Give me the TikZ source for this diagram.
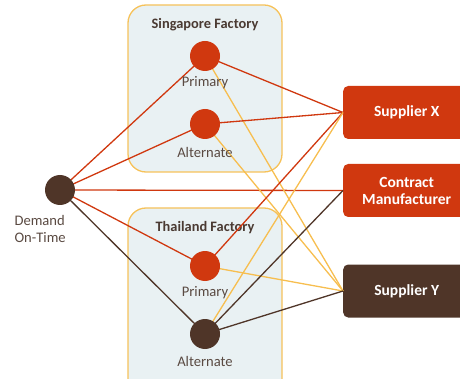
\documentclass[tikz,border=0pt]{standalone}
\usepackage{fontspec}
\setmainfont{Carlito}
\definecolor{cRed}{HTML}{D0380F}
\definecolor{cBrown}{HTML}{4F3528}
\definecolor{cYellow}{HTML}{F7BE4F}
\definecolor{cFill}{HTML}{E9F1F3}
\definecolor{cBorder}{HTML}{F6C25A}
\definecolor{cTitle}{HTML}{4A3A32}
\definecolor{cLabel}{HTML}{5A4A42}
\begin{document}
\begin{tikzpicture}[x=1pt,y=-1pt,
  factorybox/.style={draw=cBorder, line width=1.3pt, fill=cFill, rounded corners=18pt, inner sep=0pt},
  ftitle/.style={font=\bfseries\fontsize{14.4}{16}\selectfont, text=cTitle},
  dot/.style={circle, minimum size=30pt, inner sep=0pt},
  reddot/.style={dot, fill=cRed},
  browndot/.style={dot, fill=cBrown},
  lbl/.style={font=\fontsize{14.6}{17}\selectfont, text=cLabel},
  supbox/.style={rounded corners=5pt, minimum width=127pt, minimum height=53pt, anchor=west, inner sep=0pt, text=white, align=center, font=\bfseries\fontsize{15.5}{17}\selectfont},
  redline/.style={draw=cRed, line width=1.3pt},
  brownline/.style={draw=cBrown, line width=1.3pt},
  yline/.style={draw=cYellow, line width=1.3pt}
]
\useasboundingbox (0,0) rectangle (460,379);
\clip (0,0) rectangle (460,379);
% factory boxes
\node[factorybox, minimum width=154pt, minimum height=167pt] (sgbox) at (205,88.5) {};
\node[factorybox, minimum width=154pt, minimum height=190pt] (thbox) at (205,303) {};
\node[ftitle] (sgtitle) at (205,25) {Singapore Factory};
\node[ftitle] (thtitle) at (205,228) {Thailand Factory};
% supplier boxes
\node[supbox, fill=cRed] (sx) at (343,112.5) {Supplier X};
\node[supbox, fill=cRed] (cm) at (343,190.5) {Contract\\Manufacturer};
\node[supbox, fill=cBrown] (sy) at (343,291) {Supplier Y};
% dot centres
\coordinate (dm) at (60,190);
\coordinate (sp) at (205,56);
\coordinate (sa) at (205,124);
\coordinate (tp) at (205,266);
\coordinate (ta) at (205,334);
% connectors
\draw[redline] (dm) -- (sp);
\draw[redline] (dm) -- (sa);
\draw[redline] (dm) -- (cm.west);
\draw[redline] (dm) -- (tp);
\draw[brownline] (dm) -- (ta);
\draw[redline] (sp) -- (sx.west);
\draw[yline] (sp) -- (sy.west);
\draw[redline] (sa) -- (sx.west);
\draw[yline] (sa) -- (sy.west);
\draw[redline] (tp) -- (sx.west);
\draw[yline] (tp) -- (sy.west);
\draw[yline] (ta) -- (sx.west);
\draw[brownline] (ta) -- (cm.west);
\draw[brownline] (ta) -- (sy.west);
% dots on top
\node[browndot] (demand) at (dm) {};
\node[reddot] (sgp) at (sp) {};
\node[reddot] (sga) at (sa) {};
\node[reddot] (thp) at (tp) {};
\node[browndot] (tha) at (ta) {};
\node[lbl, anchor=west, align=left] (demandlbl) at (11,228.5) {Demand\\On-Time};
\node[lbl] (sgplbl) at (205,83) {Primary};
\node[lbl] (sgalbl) at (205,152) {Alternate};
\node[lbl] (thplbl) at (205,293) {Primary};
\node[lbl] (thalbl) at (205,361) {Alternate};
\end{tikzpicture}
\end{document}
